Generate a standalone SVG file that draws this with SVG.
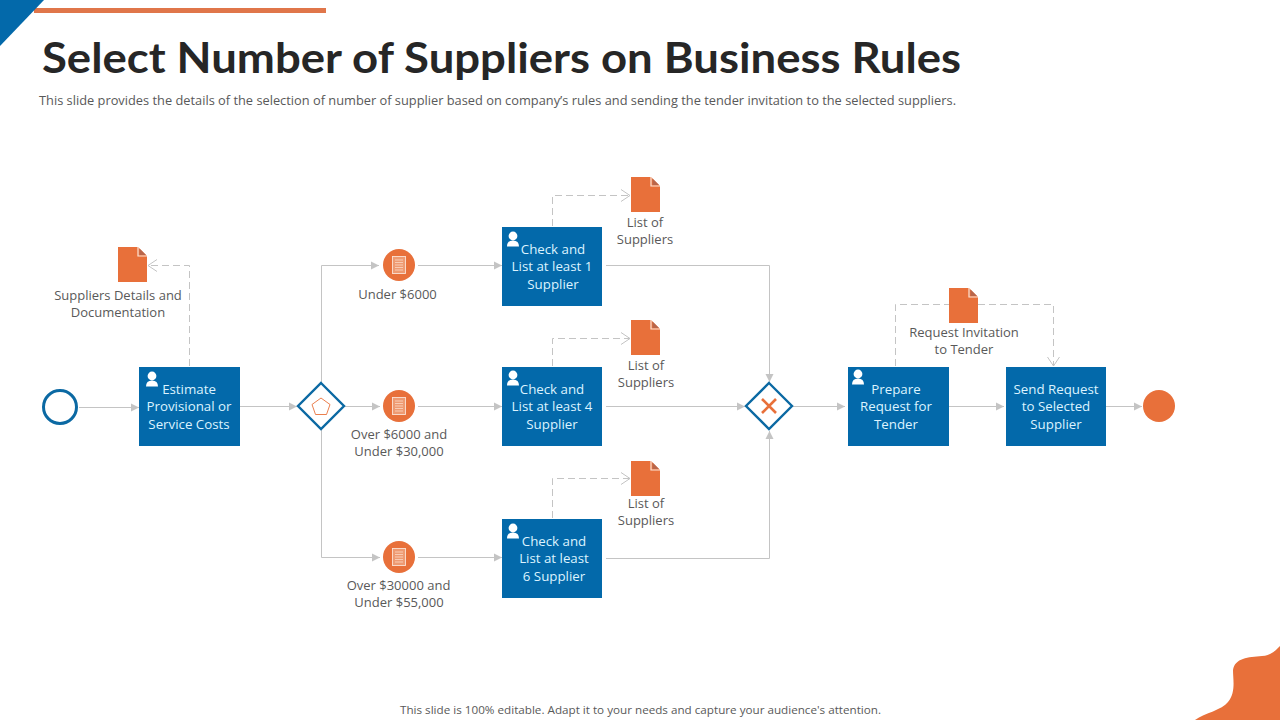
<svg xmlns="http://www.w3.org/2000/svg" width="1280" height="720" viewBox="0 0 1280 720">
<style>
text{font-family:"Open Sans","Noto Sans","Liberation Sans",sans-serif;font-size:13px;fill:#595959;text-anchor:middle}
.task{fill:#0369aa}
.tt{fill:#dcf3ff;font-size:13.3px}
.doc{fill:#e8703a}
.flow{fill:none;stroke:#c4c4c4;stroke-width:1}
.dash{fill:none;stroke:#c4c4c4;stroke-width:1;stroke-dasharray:7 4}
.gw{fill:#fff;stroke:#0b69a3;stroke-width:2.4}
</style>
<defs>
<marker id="solid" markerUnits="userSpaceOnUse" markerWidth="10" markerHeight="10" refX="8" refY="5" orient="auto"><path d="M0 1L8 5L0 9Z" fill="#c4c4c4"/></marker>
<marker id="open" markerUnits="userSpaceOnUse" markerWidth="12" markerHeight="14" refX="10" refY="7" orient="auto"><path d="M1 1L10 7L1 13" fill="none" stroke="#c4c4c4" stroke-width="1"/></marker>
<g id="document"><path class="doc" d="M0 0H20L29 9V35H0Z"/><path d="M20 0V9H29" fill="none" stroke="#fbe3d6" stroke-width="1.2"/><path d="M21.5 1.5L28 8H21.5Z" fill="#b9664a"/></g>
<g id="user"><circle cx="0" cy="-4" r="4.4" fill="#fff"/><path d="M-6 6.5Q-6 0.5 0 0.5Q6 0.5 6 6.5Z" fill="#fff"/></g>
<g id="event"><circle r="16" fill="#e8703a"/><rect x="-6.5" y="-8.5" width="13" height="17" fill="#ee9a72" stroke="#fbe3d6" stroke-width="0.9"/><path d="M-4 -5H4M-4 -2.500H4M-4 0H4M-4 2.500H4M-4 5H4" stroke="#fbd9c6" stroke-width="0.8"/></g>
</defs>
<rect width="1280" height="720" fill="#fff"/>
<rect x="34" y="8" width="292" height="5" fill="#e0764a"/>
<path d="M0 0H44L0 46Z" fill="#0369aa"/>
<path d="M1195 720C1205 713 1222 710 1228 702C1236 692 1233 680 1233 670C1235 658 1248 657 1262 656C1272 655 1276 650 1280 646V720Z" fill="#e8703a"/>
<text x="501.500" y="73" style="font-family:'Lato','Liberation Sans',sans-serif;font-size:42px;font-weight:700;fill:#262626" textLength="919" lengthAdjust="spacingAndGlyphs">Select Number of Suppliers on Business Rules</text>
<text x="497.500" y="104.500" style="font-size:12.500px" textLength="917" lengthAdjust="spacingAndGlyphs">This slide provides the details of the selection of number of supplier based on company’s rules and sending the tender invitation to the selected suppliers.</text>
<text x="640.500" y="714" style="font-size:11.500px" textLength="481" lengthAdjust="spacingAndGlyphs">This slide is 100% editable. Adapt it to your needs and capture your audience's attention.</text>

<g id="connectors">
<path class="flow" marker-end="url(#solid)" d="M79 407.500H139"/>
<path class="flow" marker-end="url(#solid)" d="M240 406.500H297"/>
<path class="flow" marker-end="url(#solid)" d="M321.500 383V265.500H379"/>
<path class="flow" marker-end="url(#solid)" d="M345 406.500H380"/>
<path class="flow" marker-end="url(#solid)" d="M321.500 430V557.500H380"/>
<path class="flow" marker-end="url(#solid)" d="M418 265.500H502"/>
<path class="flow" marker-end="url(#solid)" d="M418 406.500H502"/>
<path class="flow" marker-end="url(#solid)" d="M418 557.500H502"/>
<path class="flow" marker-end="url(#solid)" d="M606 265.500H769.500V382"/>
<path class="flow" marker-end="url(#solid)" d="M606 406.500H745"/>
<path class="flow" marker-end="url(#solid)" d="M606 558.500H769.500V431"/>
<path class="flow" marker-end="url(#solid)" d="M793 406.500H845"/>
<path class="flow" marker-end="url(#solid)" d="M949 406.500H1004"/>
<path class="flow" marker-end="url(#solid)" d="M1106 406.500H1142"/>
<path class="dash" marker-end="url(#open)" d="M189.500 366V265.500H148"/>
<path class="dash" marker-end="url(#open)" d="M552.500 226V195.500H630"/>
<path class="dash" marker-end="url(#open)" d="M552.500 366V338.500H630"/>
<path class="dash" marker-end="url(#open)" d="M552.500 518V478.500H630"/>
<path class="dash" d="M895.500 366V304.500H949"/>
<path class="dash" marker-end="url(#open)" d="M978 304.500H1053.500V366"/>
</g>

<g id="start"><circle cx="60" cy="407" r="16.500" fill="#fff" stroke="#0b69a3" stroke-width="3"/></g>
<g id="task-estimate"><rect class="task" x="139" y="367" width="101" height="79"/><use href="#user" x="152" y="380"/><text class="tt" x="189" y="394">Estimate</text><text class="tt" x="189" y="411">Provisional or</text><text class="tt" x="189" y="429">Service Costs</text></g>
<g id="gateway-1"><path class="gw" d="M321 383L344 406L321 429L298 406Z"/><path d="M321 398L330 404.500L326.500 414.500H315.500L312 404.500Z" fill="none" stroke="#e8703a" stroke-width="0.9"/></g>
<g id="doc-details"><use href="#document" x="118" y="247"/><text x="118" y="300">Suppliers Details and</text><text x="118" y="317">Documentation</text></g>
<g id="event-1"><use href="#event" x="399" y="265"/><text x="397.500" y="299">Under $6000</text></g>
<g id="event-2"><use href="#event" x="399" y="406"/><text x="399" y="439">Over $6000  and</text><text x="399" y="456">Under $30,000</text></g>
<g id="event-3"><use href="#event" x="399" y="557"/><text x="398.500" y="590">Over $30000  and</text><text x="399" y="607">Under $55,000</text></g>
<g id="task-1"><rect class="task" x="502" y="227" width="100" height="79"/><use href="#user" x="513" y="240"/><text class="tt" x="553" y="254">Check and</text><text class="tt" x="552" y="271">List at least 1</text><text class="tt" x="553" y="289">Supplier</text></g>
<g id="task-4"><rect class="task" x="502" y="367" width="100" height="79"/><use href="#user" x="513" y="379"/><text class="tt" x="552" y="394">Check and</text><text class="tt" x="552" y="411">List at least 4</text><text class="tt" x="552" y="429">Supplier</text></g>
<g id="task-6"><rect class="task" x="502" y="519" width="100" height="79"/><use href="#user" x="513" y="532"/><text class="tt" x="554" y="546">Check and</text><text class="tt" x="554" y="563">List at least</text><text class="tt" x="554" y="581">6 Supplier</text></g>
<g id="doc-1"><use href="#document" x="631" y="177"/><text x="645" y="227">List of</text><text x="645" y="244">Suppliers</text></g>
<g id="doc-2"><use href="#document" x="631" y="320"/><text x="646" y="370">List of</text><text x="646" y="387">Suppliers</text></g>
<g id="doc-3"><use href="#document" x="631" y="461"/><text x="646" y="508">List of</text><text x="646" y="525">Suppliers</text></g>
<g id="gateway-2"><path class="gw" d="M769 383L792 406L769 429L746 406Z"/><path d="M762 399L776 413M776 399L762 413" fill="none" stroke="#e8703a" stroke-width="2.600"/></g>
<g id="task-prepare"><rect class="task" x="848" y="367" width="101" height="79"/><use href="#user" x="858" y="378"/><text class="tt" x="896" y="394">Prepare</text><text class="tt" x="896" y="411">Request for</text><text class="tt" x="896" y="429">Tender</text></g>
<g id="doc-request"><use href="#document" x="949" y="288"/><text x="964" y="337">Request Invitation</text><text x="964" y="354">to Tender</text></g>
<g id="task-send"><rect class="task" x="1006" y="367" width="100" height="79"/><text class="tt" x="1056" y="394">Send Request</text><text class="tt" x="1056" y="411">to Selected</text><text class="tt" x="1056" y="429">Supplier</text></g>
<g id="end"><circle cx="1159" cy="406" r="16" fill="#e8703a"/></g>
</svg>
